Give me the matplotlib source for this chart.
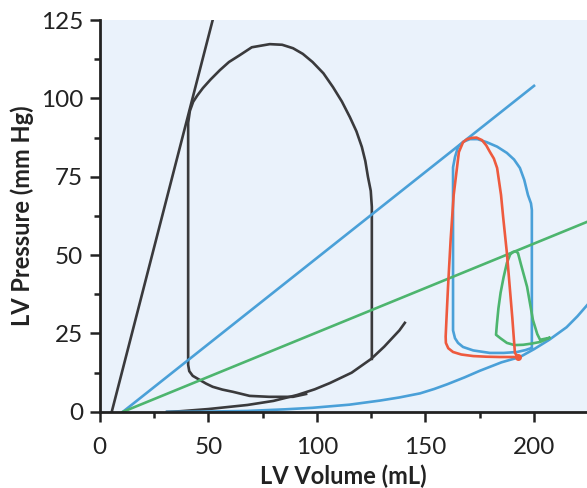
import matplotlib.pyplot as plt
from matplotlib.ticker import MultipleLocator

plt.rcParams['font.family'] = ['Lato', 'DejaVu Sans']

# black ESPVR line and loop
esp_black_v = [5.5, 52]
esp_black_p = [0, 125]
loop_black_v = [125.3, 125.3, 124.8, 123.5, 122.3, 120.7, 118.2, 115.2, 111.5, 107.4, 103, 98, 93.5, 89, 84, 78.3, 70, 64.5, 59.5, 55.3,
                51, 47.5, 45, 43, 41.5, 40.7, 40.7, 41.2, 42.8, 46, 49, 52, 56.5, 61.3, 69, 78, 89, 95]
loop_black_p = [16.9, 65.4, 70.5, 75, 80, 84.5, 89.5, 94, 99, 103.6, 108, 111.6, 114.2, 116, 117.1, 117.3, 116.3, 113.8, 111.6, 109,
                106, 103.3, 101, 98.9, 96, 92.2, 15, 13, 11.5, 10.2, 9, 8, 7.1, 6.4, 5.1, 4.8, 4.8, 5.7]
edp_black_v = [31, 37, 50, 68, 80, 91, 99, 106, 116, 125, 131, 138, 140.5]
edp_black_p = [0, 0.2, 0.9, 2.2, 3.5, 5.4, 7.2, 9.2, 12.5, 16.9, 20.8, 26, 28.4]

# blue ESPVR, EDPVR and loop
esp_blue_v = [10.6, 200]
esp_blue_p = [0, 104]
edp_blue_v = [31, 50, 68, 85, 98, 115, 129, 138, 147.5, 154, 160, 168, 175, 185, 193.5, 200, 207, 215, 220, 224.4]
edp_blue_p = [0, 0.1, 0.3, 0.8, 1.3, 2.3, 3.6, 4.6, 5.9, 7.3, 8.8, 11, 13.1, 15.8, 17.5, 20, 23, 27, 30.5, 34]
loop_blue_v = [199, 199, 198.6, 197.2, 195.5, 193.5, 190.8, 187.5, 183, 178.3, 174, 170.5, 167.5, 165, 163.6,
               162.7, 162.7, 163.6, 165, 167.3, 172, 179.7, 186, 192.2, 196, 199]
loop_blue_p = [20.4, 64.4, 66.5, 69.2, 74, 77.8, 80.5, 82.6, 84.6, 86, 87, 87, 86.2, 84.5, 81.3,
               78, 26, 23.5, 22, 20.7, 19.6, 18.8, 18.8, 19.1, 19.7, 20.4]

# green ESPVR and loop
esp_green_v = [10.6, 224.4]
esp_green_p = [0, 60.6]
loop_green_v = [207, 202.8, 199, 195, 191, 187.5, 184.5, 182.5, 182.9, 183.6, 184.6, 186, 187.5,
                189, 190.3, 191.5, 192.6, 194, 196.8, 199.5, 201.5, 202.8, 207]
loop_green_p = [23.6, 22.3, 21.8, 21.4, 21.3, 22, 23.5, 24.6, 28, 33, 38, 43, 47.5,
                50.2, 51, 51.2, 50.7, 47, 39.9, 29.3, 24.8, 23, 23.6]

# red loop
loop_red_v = [192.6, 191.2, 190, 187.5, 185.8, 184.8, 183, 181.5, 179.7, 178, 176, 173.5, 171.4,
              169.2, 167.3, 165.4, 164.5, 163, 161.6, 160.4, 159.7, 159.3, 159.4, 160.5,
              162.7, 166.5, 172, 178, 184.3, 192.6]
loop_red_p = [17.5, 18.8, 30, 50.7, 62, 69.2, 77.8, 80.8, 82.9, 85, 86.7, 87.5, 87.4,
              87, 86, 82.9, 77.8, 69.2, 55, 40, 30, 24, 22, 20.3,
              19.1, 18.3, 17.8, 17.6, 17.5, 17.5]

c_black = '#3a3a3c'
c_blue = '#4aa0d8'
c_green = '#4db56e'
c_red = '#ee5a3e'
lw = 1.9

fig = plt.figure(figsize=(5.87, 4.88), dpi=100)
ax = fig.add_axes([0.170, 0.156, 0.830, 0.803])
ax.set_facecolor('#eaf2fb')

ax.plot(esp_black_v, esp_black_p, color=c_black, lw=lw)
ax.plot(loop_black_v, loop_black_p, color=c_black, lw=lw, solid_joinstyle='round')
ax.plot(edp_black_v, edp_black_p, color=c_black, lw=lw, solid_joinstyle='round')

ax.plot(esp_blue_v, esp_blue_p, color=c_blue, lw=lw)
ax.plot(edp_blue_v, edp_blue_p, color=c_blue, lw=lw, solid_joinstyle='round')
ax.plot(loop_blue_v, loop_blue_p, color=c_blue, lw=lw, solid_joinstyle='round')

ax.plot(esp_green_v, esp_green_p, color=c_green, lw=lw)
ax.plot(loop_green_v, loop_green_p, color=c_green, lw=lw, solid_joinstyle='round')

ax.plot(loop_red_v, loop_red_p, color=c_red, lw=lw, solid_joinstyle='round')
ax.plot([loop_red_v[0]], [loop_red_p[0]], 'o', color=c_red, ms=4)

ax.set_xlim(0, 224.4)
ax.set_ylim(0, 125)
ax.xaxis.set_major_locator(MultipleLocator(50))
ax.xaxis.set_minor_locator(MultipleLocator(25))
ax.yaxis.set_major_locator(MultipleLocator(25))
ax.yaxis.set_minor_locator(MultipleLocator(12.5))
ax.tick_params(which='major', length=7, width=1.8, labelsize=17.5, color='#222222',
               labelcolor='#222222', pad=5)
ax.tick_params(axis='x', which='major', pad=11)
ax.tick_params(which='minor', length=4, width=1.8, color='#222222')
for s in ['top', 'right']:
    ax.spines[s].set_visible(False)
for s in ['left', 'bottom']:
    ax.spines[s].set_linewidth(2)
    ax.spines[s].set_color('#222222')

ax.set_xlabel('LV Volume (mL)', fontsize=17, fontweight='bold', labelpad=5, color='#222222')
ax.set_ylabel('LV Pressure (mm Hg)', fontsize=17, fontweight='bold', labelpad=5, color='#222222')

fig.savefig('out.png', dpi=100)
